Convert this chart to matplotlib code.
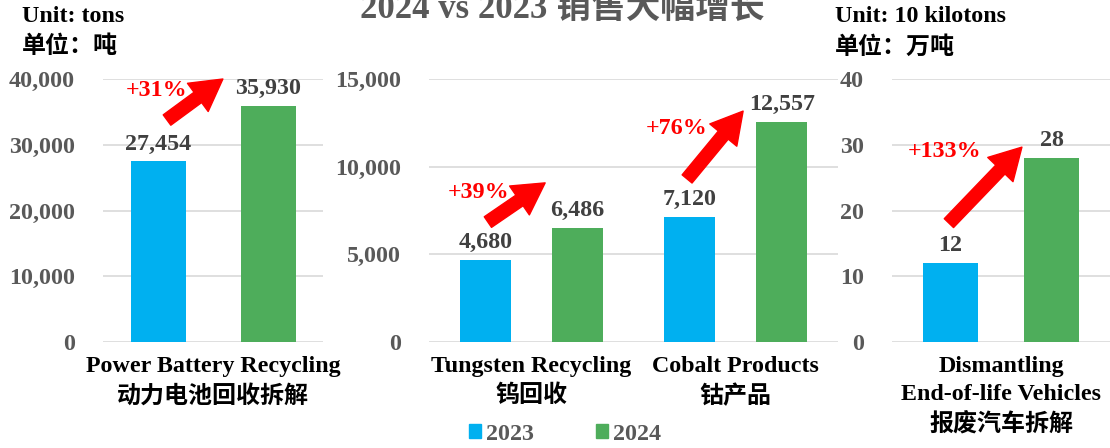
import matplotlib
matplotlib.use("Agg")
import matplotlib.pyplot as plt
from matplotlib.ticker import FuncFormatter

plt.rcParams["font.family"] = ["Liberation Serif", "Noto Sans CJK SC"]
plt.rcParams["font.weight"] = "bold"

# data
battery_labels = ["Power Battery Recycling\n动力电池回收拆解"]
battery_2023 = [27454]
battery_2024 = [35930]
battery_growth = ["+31%"]

metal_labels = ["Tungsten Recycling\n钨回收", "Cobalt Products\n钴产品"]
metal_2023 = [4680, 7120]
metal_2024 = [6486, 12557]
metal_growth = ["+39%", "+76%"]

vehicle_labels = ["Dismantling\nEnd-of-life Vehicles\n报废汽车拆解"]
vehicle_2023 = [12]
vehicle_2024 = [28]
vehicle_growth = ["+133%"]

BLUE = "#00B0F0"
GREEN = "#4EAD5B"
GRID = "#D9D9D9"
TICK = "#595959"
VAL = "#404040"
FS = 17.3

fig = plt.figure(figsize=(11.1, 4.48), dpi=100)

bottom = 1 - 342 / 448
height = (342 - 79) / 448


def panel(rect, labels, v23, v24, growth, ymax, step, offset, arrows):
    ax = fig.add_axes(rect)
    x = list(range(len(labels)))
    b1 = ax.bar([i - offset for i in x], v23, width=0.25, color=BLUE, zorder=3)
    b2 = ax.bar([i + offset for i in x], v24, width=0.25, color=GREEN, zorder=3)
    for bars in (b1, b2):
        for r in bars:
            h = r.get_height()
            ax.annotate(f"{h:,}", (r.get_x() + r.get_width() / 2, h),
                        xytext=(0, 5), textcoords="offset points",
                        ha="center", va="bottom", fontsize=FS, color=VAL,
                        fontweight="bold")
    ax.set_xlim(-0.5, len(labels) - 0.5)
    ax.set_ylim(0, ymax)
    ax.set_yticks(range(0, ymax + 1, step))
    ax.yaxis.set_major_formatter(FuncFormatter(lambda v, p: f"{int(v):,}"))
    ax.set_xticks(x)
    ax.set_xticklabels(labels, fontsize=FS, color="black", fontweight="bold",
                       linespacing=1.42)
    ax.tick_params(axis="y", length=0, pad=20, labelsize=FS, labelcolor=TICK)
    ax.tick_params(axis="x", length=0, pad=10)
    ax.grid(axis="y", color=GRID, linewidth=1.2, zorder=0)
    for s in ax.spines.values():
        s.set_visible(False)
    for g, (tail, head, txt) in zip(growth, arrows):
        ax.annotate("", xy=head, xytext=tail, xycoords="axes fraction",
                    textcoords="axes fraction",
                    arrowprops=dict(arrowstyle="simple,head_width=0.9,head_length=0.8,tail_width=0.33",
                                    color="red", mutation_scale=28, shrinkA=0, shrinkB=0),
                    annotation_clip=False)
        ax.text(txt[0], txt[1], g, transform=ax.transAxes, ha="center",
                va="center", color="red", fontsize=FS, fontweight="bold")
    return ax


panel([103 / 1110, bottom, 220 / 1110, height], battery_labels, battery_2023,
      battery_2024, battery_growth, 40000, 10000, 0.25,
      [((0.291, 0.844), (0.545, 1.0), (0.245, 0.958))])

panel([429 / 1110, bottom, 409 / 1110, height], metal_labels, metal_2023,
      metal_2024, metal_growth, 15000, 5000, 0.225,
      [((0.144, 0.456), (0.284, 0.605), (0.120, 0.570)),
       ((0.631, 0.620), (0.768, 0.878), (0.606, 0.810))])

panel([892 / 1110, bottom, 218 / 1110, height], vehicle_labels, vehicle_2023,
      vehicle_2024, vehicle_growth, 40, 10, 0.232,
      [((0.261, 0.452), (0.596, 0.741), (0.239, 0.726))])

# units and title
fig.text(22 / 1110, 1 - 17 / 448, "Unit: tons", ha="left", va="center", fontsize=FS)
fig.text(22 / 1110, 1 - 47 / 448, "单位：吨", ha="left", va="center", fontsize=FS)
fig.text(835 / 1110, 1 - 17 / 448, "Unit: 10 kilotons", ha="left", va="center", fontsize=FS)
fig.text(835 / 1110, 1 - 47 / 448, "单位：万吨", ha="left", va="center", fontsize=FS)
fig.text(562 / 1110, 1 - 18 / 448, "2024 vs 2023 销售大幅增长", ha="center",
         va="baseline", fontsize=25, color=TICK)

# legend
h1 = plt.Rectangle((0, 0), 1, 1, color=BLUE)
h2 = plt.Rectangle((0, 0), 1, 1, color=GREEN)
fig.legend([h1, h2], ["2023", "2024"], loc="center", ncol=2,
           bbox_to_anchor=(565 / 1110, 1 - 434 / 448), frameon=False,
           fontsize=FS, labelcolor=TICK, handlelength=0.5, handleheight=0.5,
           handletextpad=0.2, columnspacing=2.6, borderpad=0.1)

fig.savefig("out.png", dpi=100)
